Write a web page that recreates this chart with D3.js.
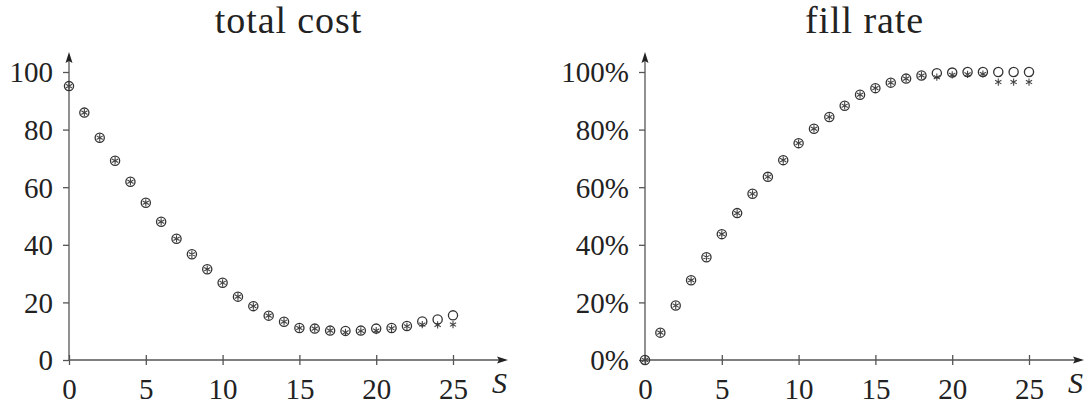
<!DOCTYPE html>
<html>
<head>
<meta charset="utf-8">
<script src="https://cdn.jsdelivr.net/npm/d3@7"></script>
<style>
  body { margin: 0; background: #fff; }
</style>
</head>
<body>
<div id="my_dataviz"></div>
<script>
// S values, shared by both panels
var S = d3.range(0, 26);
var xTicks = [0, 5, 10, 15, 20, 25];

// total cost, circles and asterisks
var costCircle = [95.1, 85.9, 77.2, 69.2, 61.9, 54.6, 48.0, 42.1, 36.7, 31.5, 26.8, 22.0, 18.7, 15.4, 13.3, 11.1, 10.9, 10.2, 10.1, 10.2, 10.9, 11.1, 11.8, 13.4, 14.1, 15.5];
var costStar   = [95.1, 85.9, 77.2, 69.2, 61.9, 54.6, 48.0, 42.1, 36.7, 31.5, 26.8, 22.0, 18.7, 15.4, 13.3, 11.1, 10.9, 10.2, 9.6, 10.1, 10.2, 11.0, 11.7, 12.3, 12.2, 12.3];
var costTicks = [0, 20, 40, 60, 80, 100];

// fill rate (%), circles and asterisks
var fillCircle = [0, 9.5, 18.9, 27.7, 35.7, 43.7, 51.0, 57.7, 63.6, 69.4, 75.3, 80.3, 84.4, 88.3, 92.1, 94.4, 96.3, 97.7, 98.8, 99.6, 99.8, 100, 100, 100, 100, 100];
var fillStar   = [0, 9.5, 18.9, 27.7, 35.7, 43.7, 51.0, 57.7, 63.6, 69.4, 75.3, 80.3, 84.4, 88.3, 92.1, 94.4, 96.3, 97.7, 98.8, 98.2, 99.0, 99.2, 99.3, 96.5, 96.5, 96.5];
var fillTicks = [0, 20, 40, 60, 80, 100];

var width = 384, height = 288;
var grey = "#555";

var svg = d3.select('#my_dataviz')
  .append('svg')
  .attr('width', 1090)
  .attr('height', 406);

function drawPanel(left, title, circles, stars, yTicks, fmt){
  var g = svg.append('g')
    .attr('transform', 'translate(' + left + ',72)');

  var x = d3.scaleLinear().domain([0, 25]).range([0, width]);
  var y = d3.scaleLinear().domain([0, 100]).range([height, 0]);
  var xEnd = x(25) + 55;

  // title, centred over the axis incl. arrow
  g.append("text")
    .attr("x", xEnd / 2)
    .attr("y", -39)
    .attr("text-anchor", "middle")
    .attr("fill", "#222")
    .style("font-family", "Liberation Serif")
    .style("font-size", "38px")
    .style("letter-spacing", "0.9px")
    .text(title);

  // y axis
  var ya = g.append("g")
    .call(d3.axisLeft(y).tickValues(yTicks).tickFormat(fmt).tickSize(6).tickPadding(10));
  ya.select(".domain").remove();
  ya.selectAll("line").attr("stroke", grey).attr("stroke-width", 1.3);
  ya.selectAll("text").style("font-family", "Liberation Serif").style("font-size", "29px").attr("fill", "#222").attr("dy", "0.34em");

  // x axis
  var xa = g.append("g")
    .attr("transform", "translate(0," + height + ")")
    .call(d3.axisBottom(x).tickValues(xTicks).tickSize(5).tickPadding(13));
  xa.select(".domain").remove();
  xa.selectAll("line").attr("y1", -5).attr("stroke", grey).attr("stroke-width", 1.3);
  xa.selectAll("text").style("font-family", "Liberation Serif").style("font-size", "29px").attr("fill", "#222");

  // axis lines with arrows
  g.append("line")
    .attr("x1", 0).attr("x2", 0)
    .attr("y1", height).attr("y2", -12)
    .attr("stroke", grey).attr("stroke-width", 1.3);
  g.append("path")
    .attr("d", "M0,-20 L-3.5,-9 L0,-11 L3.5,-9 Z")
    .attr("fill", "#222");
  g.append("line")
    .attr("x1", 0).attr("x2", xEnd - 8)
    .attr("y1", height).attr("y2", height)
    .attr("stroke", grey).attr("stroke-width", 1.3);
  g.append("path")
    .attr("d", "M" + xEnd + "," + height + " l-11,-3.5 l2,3.5 l-2,3.5 Z")
    .attr("fill", "#222");
  g.append("text")
    .attr("x", xEnd - 16)
    .attr("y", height + 33)
    .attr("fill", "#222")
    .style("font-family", "Liberation Serif")
    .style("font-size", "30px")
    .style("font-style", "italic")
    .text("S");

  // markers
  g.selectAll(".star")
    .data(S)
    .enter()
    .append("path")
    .attr("class", "star")
    .attr("transform", function(d){ return "translate(" + x(d) + "," + y(stars[d]) + ")"; })
    .attr("d", d3.symbol().type(d3.symbolAsterisk).size(36))
    .attr("fill", "none")
    .attr("stroke", "#444")
    .attr("stroke-width", 1.1);

  g.selectAll(".circ")
    .data(S)
    .enter()
    .append("circle")
    .attr("class", "circ")
    .attr("cx", function(d){ return x(d); })
    .attr("cy", function(d){ return y(circles[d]); })
    .attr("r", 4.6)
    .attr("fill", "none")
    .attr("stroke", "#333")
    .attr("stroke-width", 1.3);
}

drawPanel(69, "total cost", costCircle, costStar, costTicks, d3.format("d"));
drawPanel(645, "fill rate", fillCircle, fillStar, fillTicks, function(d){ return d + "%"; });
</script>
</body>
</html>
